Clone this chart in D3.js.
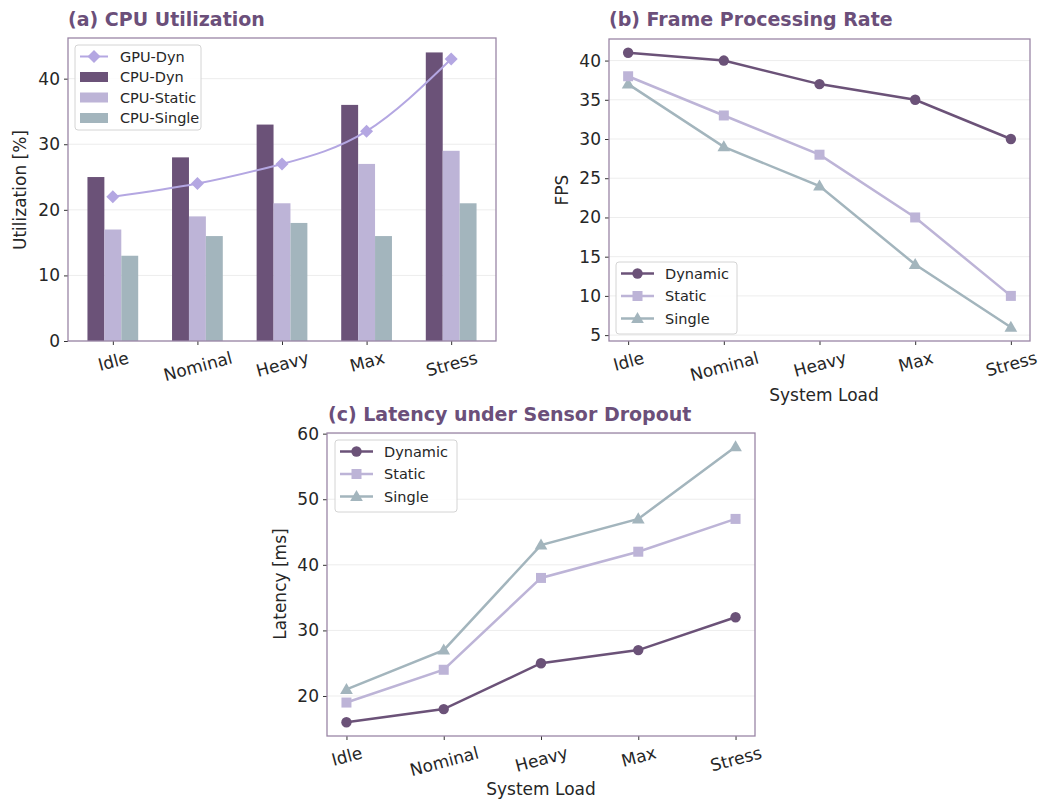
<!DOCTYPE html>
<html>
<head>
<meta charset="utf-8">
<script src="https://cdn.jsdelivr.net/npm/d3@7"></script>
<style>
  html, body { margin: 0; padding: 0; background: #ffffff; }
  svg { display: block; font-family: "DejaVu Sans", sans-serif; }
</style>
</head>
<body>
<svg id="fig" width="1051" height="802"></svg>
<script>
// ---- data ----
const loads = ["Idle", "Nominal", "Heavy", "Max", "Stress"];

// (a) utilization [%]
const cpuDyn    = [25, 28, 33, 36, 44];
const cpuStatic = [17, 19, 21, 27, 29];
const cpuSingle = [13, 16, 18, 16, 21];
const gpuDyn    = [22, 24, 27, 32, 43];
const utilTicks = [0, 10, 20, 30, 40];

// (b) frame rate [FPS]
const fpsDynamic = [41, 40, 37, 35, 30];
const fpsStatic  = [38, 33, 28, 20, 10];
const fpsSingle  = [37, 29, 24, 14, 6];
const fpsTicks   = [5, 10, 15, 20, 25, 30, 35, 40];

// (c) latency [ms]
const latDynamic = [16, 18, 25, 27, 32];
const latStatic  = [19, 24, 38, 42, 47];
const latSingle  = [21, 27, 43, 47, 58];
const latTicks   = [20, 30, 40, 50, 60];

// ---- style ----
const C = {
  dyn: "#6b5278", stat: "#bdb4d7", single: "#a3b5bd", gpu: "#b4a7e2",
  title: "#6b4f7a", spine: "#9a86a6", grid: "#ededed", text: "#262626"
};
const TICK_FS = 17, LABEL_FS = 17, LEG_FS = 14.5, TITLE_FS = 19;

const svg = d3.select("#fig");

function frame(g, x0, y0, w, h) {
  g.append("rect").attr("x", x0).attr("y", y0).attr("width", w).attr("height", h)
    .attr("fill", "none").attr("stroke", C.spine).attr("stroke-width", 1.3);
}

function yAxis(g, y, ticks, x0, x1) {
  // horizontal grid at each labelled tick
  g.append("g").selectAll("line").data(ticks).join("line")
    .attr("x1", x0).attr("x2", x1)
    .attr("y1", d => y(d)).attr("y2", d => y(d))
    .attr("stroke", C.grid).attr("stroke-width", 1);
  const ax = g.append("g").attr("transform", `translate(${x0},0)`)
    .call(d3.axisLeft(y).tickValues(ticks).tickSize(4).tickPadding(4).tickSizeOuter(0));
  ax.select(".domain").remove();
  ax.selectAll(".tick line").attr("stroke", "#333").attr("stroke-width", 1);
  ax.selectAll(".tick text").attr("fill", C.text).attr("font-size", TICK_FS)
    .attr("font-family", "DejaVu Sans");
}

function xAxis(g, x, y0) {
  const ax = g.append("g").attr("transform", `translate(0,${y0})`)
    .call(d3.axisBottom(x).tickSize(4).tickSizeOuter(0));
  ax.select(".domain").remove();
  ax.selectAll(".tick line").attr("stroke", "#333").attr("stroke-width", 1);
  // rotated labels, centred under each tick with the rotated box's top at the tick
  ax.selectAll(".tick text").each(function () {
    const t = d3.select(this);
    t.attr("fill", C.text).attr("font-size", TICK_FS).attr("font-family", "DejaVu Sans")
      .attr("text-anchor", "middle").attr("dy", "0.35em");
    const L = this.getComputedTextLength();
    const a = 15 * Math.PI / 180;
    const hgt = TICK_FS * 1.0;
    const cy = 8 + (L / 2) * Math.sin(a) + (hgt / 2) * Math.cos(a);
    t.attr("y", 0).attr("transform", `translate(0,${cy}) rotate(-15)`);
  });
}

function title(txt, x, y) {
  svg.append("text").attr("x", x).attr("y", y).text(txt)
    .attr("font-size", TITLE_FS).attr("font-weight", "bold").attr("fill", C.title);
}

function ylabel(txt, x, y) {
  svg.append("text").attr("transform", `translate(${x},${y}) rotate(-90)`)
    .attr("text-anchor", "middle").attr("font-size", LABEL_FS).attr("fill", C.text).text(txt);
}
function xlabel(txt, x, y) {
  svg.append("text").attr("x", x).attr("y", y).attr("text-anchor", "middle")
    .attr("font-size", LABEL_FS).attr("fill", C.text).text(txt);
}

function marker(g, type, cx, cy, color) {
  if (type === "circle") {
    g.append("circle").attr("cx", cx).attr("cy", cy).attr("r", 5.2).attr("fill", color);
  } else if (type === "square") {
    g.append("rect").attr("x", cx - 5).attr("y", cy - 5).attr("width", 10).attr("height", 10).attr("fill", color);
  } else if (type === "triangle") {
    g.append("path").attr("d", d3.symbol(d3.symbolTriangle, 70)()).attr("transform", `translate(${cx},${cy + 0.8})`).attr("fill", color);
  } else if (type === "diamond") {
    g.append("path").attr("d", "M0,-6.5L6.5,0L0,6.5L-6.5,0Z").attr("transform", `translate(${cx},${cy})`).attr("fill", color);
  }
}

function legend(g, x0, y0, w, h, items, rowH, handleLen, textOff) {
  g.append("rect").attr("x", x0).attr("y", y0).attr("width", w).attr("height", h).attr("rx", 3)
    .attr("fill", "#ffffff").attr("fill-opacity", 0.85).attr("stroke", "#d4d4d4").attr("stroke-width", 1);
  items.forEach((it, i) => {
    const cy = y0 + 11 + rowH * i + 0.5;
    if (it.kind === "patch") {
      g.append("rect").attr("x", x0 + 5).attr("y", cy - 5).attr("width", handleLen).attr("height", 10).attr("fill", it.color);
    } else {
      g.append("line").attr("x1", x0 + 5).attr("x2", x0 + 5 + handleLen).attr("y1", cy).attr("y2", cy)
        .attr("stroke", it.color).attr("stroke-width", it.lw || 2.5);
      marker(g, it.marker, x0 + 5 + handleLen / 2, cy, it.color);
    }
    g.append("text").attr("x", x0 + textOff).attr("y", cy).attr("dy", "0.35em")
      .attr("font-size", LEG_FS).attr("fill", C.text).text(it.label);
  });
}

// ================= (a) CPU Utilization =================
{
  const L = 68, R = 496, T = 38, B = 341;
  const g = svg.append("g");
  const x = d3.scaleLinear().domain([-0.53, 4.53]).range([L, R]);
  const y = d3.scaleLinear().domain([0, 46.2]).range([B, T]);
  yAxis(g, y, utilTicks, L, R);
  xAxis(g, d3.scalePoint().domain(loads).range([x(0), x(4)]), B);

  const bw = x(0.2) - x(0);
  const series = [
    { vals: cpuDyn, color: C.dyn, off: -0.2 },
    { vals: cpuStatic, color: C.stat, off: 0 },
    { vals: cpuSingle, color: C.single, off: 0.2 }
  ];
  series.forEach(s => {
    g.append("g").selectAll("rect").data(s.vals).join("rect")
      .attr("x", (d, i) => x(i + s.off) - bw / 2)
      .attr("width", bw)
      .attr("y", d => y(d))
      .attr("height", d => y(0) - y(d))
      .attr("fill", s.color);
  });

  // GPU utilization as a smooth curve over the bars
  const line = d3.line().x((d, i) => x(i)).y(d => y(d)).curve(d3.curveNatural);
  g.append("path").datum(gpuDyn).attr("d", line).attr("fill", "none")
    .attr("stroke", C.gpu).attr("stroke-width", 2);
  gpuDyn.forEach((d, i) => marker(g, "diamond", x(i), y(d), C.gpu));

  frame(g, L, T, R - L, B - T);
  legend(g, 75, 45, 126, 85, [
    { kind: "line", marker: "diamond", color: C.gpu, label: "GPU-Dyn", lw: 2 },
    { kind: "patch", color: C.dyn, label: "CPU-Dyn" },
    { kind: "patch", color: C.stat, label: "CPU-Static" },
    { kind: "patch", color: C.single, label: "CPU-Single" }
  ], 20.5, 28, 45);
  title("(a) CPU Utilization", 68, 26);
  ylabel("Utilization [%]", 26, 190);
}

// ================= (b) Frame Processing Rate =================
{
  const L = 609, R = 1030, T = 39, B = 341;
  const g = svg.append("g");
  const x = d3.scaleLinear().domain([-0.2, 4.2]).range([L, R]);
  const y = d3.scaleLinear().domain([4.25, 42.75]).range([B, T]);
  yAxis(g, y, fpsTicks, L, R);
  xAxis(g, d3.scalePoint().domain(loads).range([x(0), x(4)]), B);

  const line = d3.line().x((d, i) => x(i)).y(d => y(d));
  [
    { vals: fpsSingle, color: C.single, m: "triangle" },
    { vals: fpsStatic, color: C.stat, m: "square" },
    { vals: fpsDynamic, color: C.dyn, m: "circle" }
  ].forEach(s => {
    g.append("path").datum(s.vals).attr("d", line).attr("fill", "none")
      .attr("stroke", s.color).attr("stroke-width", 2.5);
    s.vals.forEach((d, i) => marker(g, s.m, x(i), y(d), s.color));
  });

  frame(g, L, T, R - L, B - T);
  legend(g, 616, 262, 121, 72, [
    { kind: "line", marker: "circle", color: C.dyn, label: "Dynamic" },
    { kind: "line", marker: "square", color: C.stat, label: "Static" },
    { kind: "line", marker: "triangle", color: C.single, label: "Single" }
  ], 22.5, 33, 49);
  title("(b) Frame Processing Rate", 609, 26);
  ylabel("FPS", 568, 190);
  xlabel("System Load", 824, 401);
}

// ================= (c) Latency under Sensor Dropout =================
{
  const L = 327, R = 755, T = 433, B = 736;
  const g = svg.append("g");
  const x = d3.scaleLinear().domain([-0.2, 4.2]).range([L, R]);
  const y = d3.scaleLinear().domain([13.9, 60.1]).range([B, T]);
  yAxis(g, y, latTicks, L, R);
  xAxis(g, d3.scalePoint().domain(loads).range([x(0), x(4)]), B);

  const line = d3.line().x((d, i) => x(i)).y(d => y(d));
  [
    { vals: latSingle, color: C.single, m: "triangle" },
    { vals: latStatic, color: C.stat, m: "square" },
    { vals: latDynamic, color: C.dyn, m: "circle" }
  ].forEach(s => {
    g.append("path").datum(s.vals).attr("d", line).attr("fill", "none")
      .attr("stroke", s.color).attr("stroke-width", 2.5);
    s.vals.forEach((d, i) => marker(g, s.m, x(i), y(d), s.color));
  });

  frame(g, L, T, R - L, B - T);
  legend(g, 335, 440, 122, 72, [
    { kind: "line", marker: "circle", color: C.dyn, label: "Dynamic" },
    { kind: "line", marker: "square", color: C.stat, label: "Static" },
    { kind: "line", marker: "triangle", color: C.single, label: "Single" }
  ], 22.5, 33, 49);
  title("(c) Latency under Sensor Dropout", 328, 421);
  ylabel("Latency [ms]", 286, 584);
  xlabel("System Load", 541, 795);
}
</script>
</body>
</html>
